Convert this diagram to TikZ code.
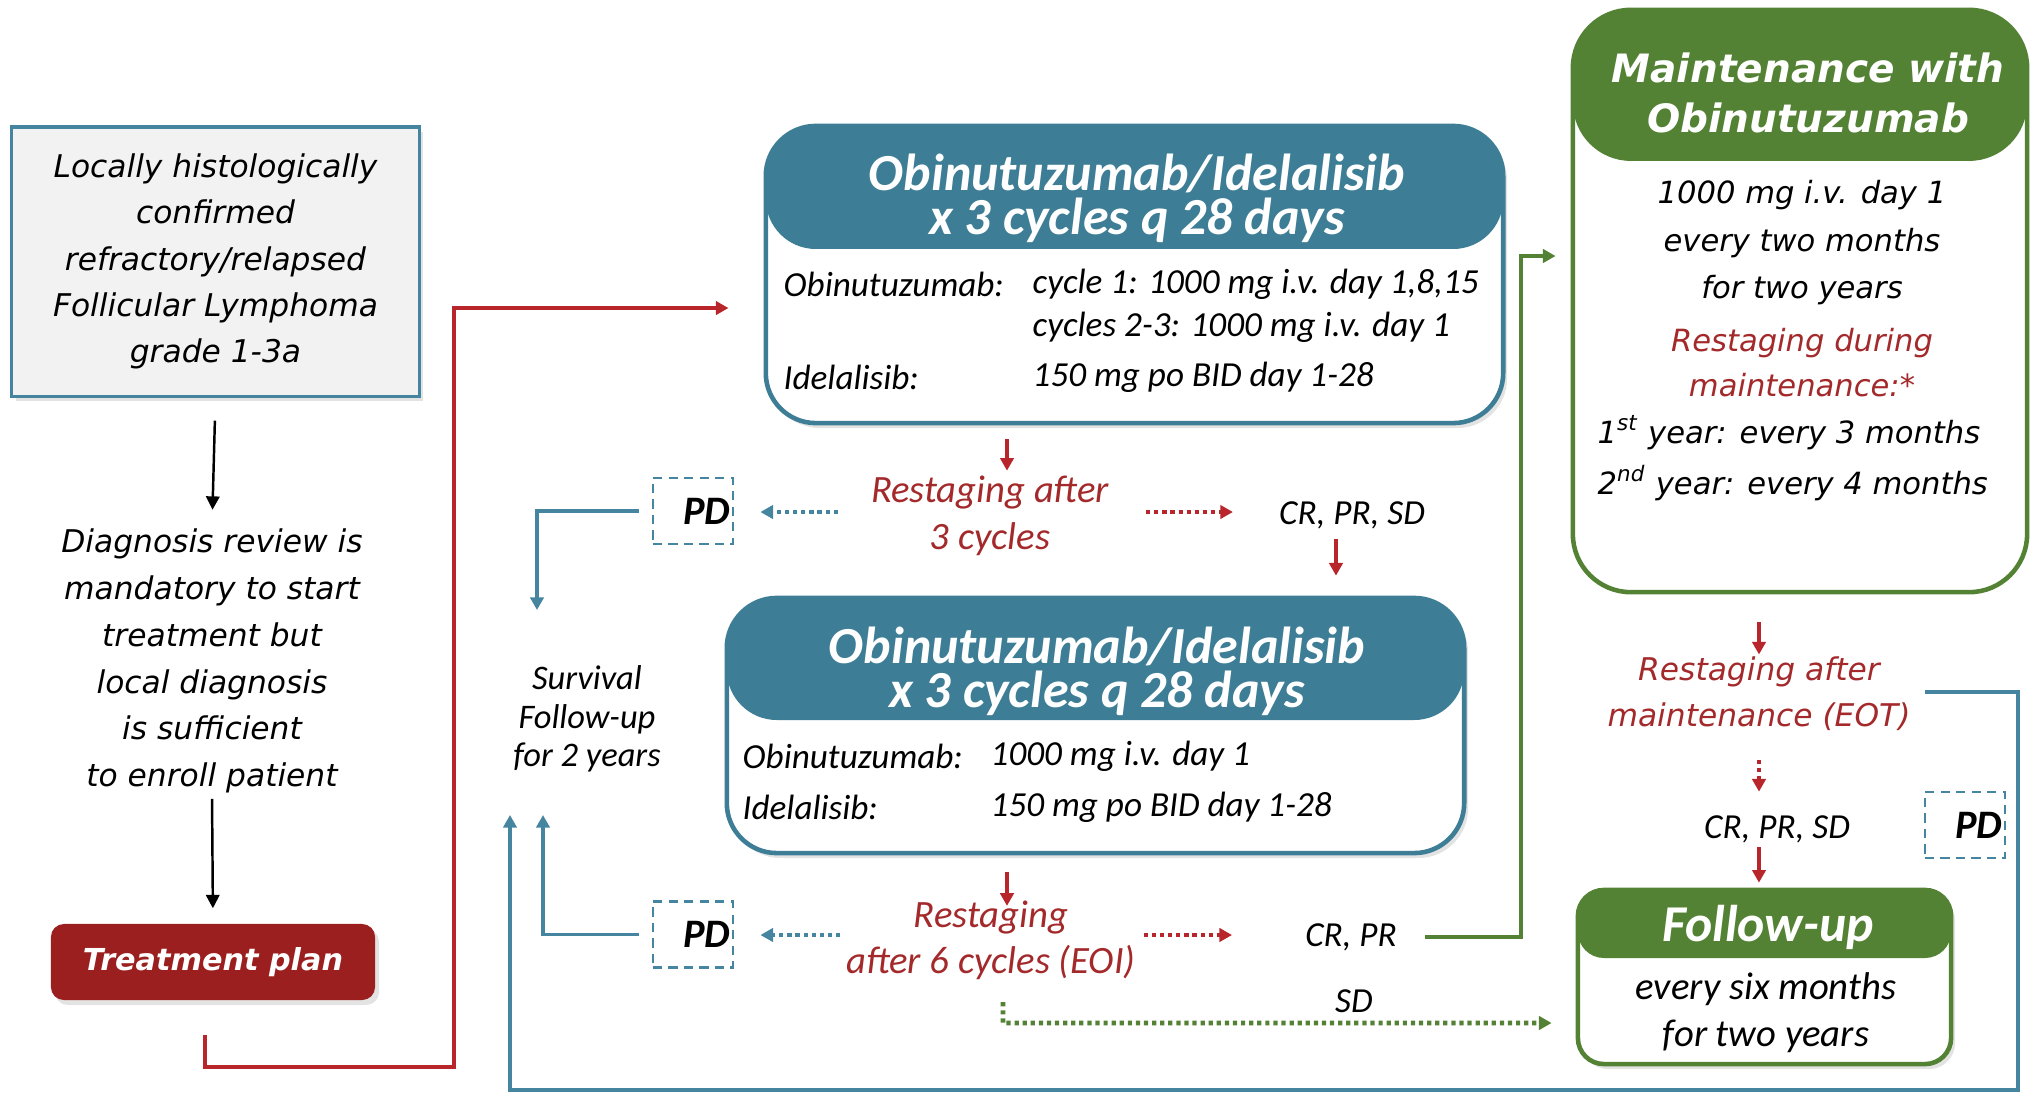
\documentclass[tikz,border=0pt]{standalone}
\usepackage{fontspec}
\setmainfont{Carlito}
\newfontfamily\verd{DejaVu Sans}[ItalicFont={DejaVu Sans Oblique},BoldFont={DejaVu Sans Bold},BoldItalicFont={DejaVu Sans Bold Oblique}]
\usetikzlibrary{arrows.meta,shadows}
\definecolor{tealc}{HTML}{3D7D95}
\definecolor{tealln}{HTML}{4585A0}
\definecolor{greenc}{HTML}{548235}
\definecolor{redbox}{HTML}{9B1F1F}
\definecolor{redln}{HTML}{B8262C}
\definecolor{redtxt}{HTML}{A3292B}
\definecolor{grayfill}{HTML}{F2F2F2}
\newcommand{\fsz}[2]{\fontsize{#1}{#2}\selectfont}
\tikzset{
  arrtip/.style={-{Triangle[length=3.6pt,width=3.8pt]}},
  redarr/.style={draw=redln,line width=0.9pt,arrtip},
  redline/.style={draw=redln,line width=0.9pt,arrtip},
  reddot/.style={draw=redln,line width=1.4pt,dash pattern=on 1.2pt off 1.1pt,arrtip},
  tealarr/.style={draw=tealln,line width=0.9pt,arrtip},
  tealdot/.style={draw=tealln,line width=1.4pt,dash pattern=on 1.2pt off 1.1pt,arrtip},
  greenarr/.style={draw=greenc,line width=0.9pt,arrtip},
  greendot/.style={draw=greenc,line width=1.4pt,dash pattern=on 1.2pt off 1.1pt,arrtip},
  blkarr/.style={draw=black,line width=0.7pt,-{Triangle[length=3.8pt,width=3.8pt]}},
  shad/.style={drop shadow={opacity=0.22,shadow xshift=0.04cm,shadow yshift=-0.05cm}},
  tealbox/.style={draw=tealc,line width=1.3pt,rounded corners=0.5cm,fill=white,inner sep=0,shad},
  greenbox/.style={draw=greenc,line width=1.3pt,fill=white,inner sep=0},
  pdbox/.style={draw=tealln,line width=0.8pt,dash pattern=on 2.6pt off 1.8pt,minimum height=0.66cm,
     text width=0.74cm,inner xsep=0.03cm,align=right,font=\bfseries\itshape\fsz{11.5}{13}},
  ttl/.style={text=white,align=center,inner sep=0,font=\bfseries\itshape\fsz{14.8}{12.6}},
  bodytxt/.style={anchor=west,inner sep=0,font=\itshape\fsz{10}{12}},
  cal/.style={inner sep=0,align=center,font=\itshape\fsz{11}{13.2}},
  calsm/.style={inner sep=0,align=center,font=\itshape\fsz{10}{12}},
  ver/.style={inner sep=0,align=center,font=\verd\itshape\fsz{8.9}{13.2}},
}
\begin{document}
\begin{tikzpicture}[x=0.01cm,y=-0.01cm]
\useasboundingbox (0,0) rectangle (2035,1093);

% ---------- left column ----------
\node[draw=tealln,line width=0.9pt,fill=grayfill,minimum width=4.07cm,minimum height=2.69cm,
      inner sep=0,align=center,font=\verd\itshape\fsz{8.9}{13.2},shad] (box1) at (215.5,261.5)
  {Locally histologically\\confirmed\\refractory/relapsed\\Follicular Lymphoma\\grade 1-3a};
\node[ver,font=\verd\itshape\fsz{8.9}{13.3}] (diag) at (212,661)
  {Diagnosis review is\\mandatory to start\\treatment but\\local diagnosis\\is sufficient\\to enroll patient};
\node[fill=redbox,rounded corners=0.13cm,minimum width=3.24cm,minimum height=0.76cm,inner sep=0,
      text=white,font=\verd\bfseries\itshape\fsz{8.6}{10},shad] (tp) at (213,962) {\raisebox{-0.05cm}{Treatment plan}};

\draw[blkarr,shorten <=0.23cm,shorten >=0.185cm] (box1.south) -- (diag.north);
\draw[blkarr,shorten <=0.05cm,shorten >=0.15cm] (diag.south) -- (tp.north);

% ---------- teal box 1 ----------
\node[tealbox,minimum width=7.37cm,minimum height=2.97cm,
  path picture={\fill[tealc] ([yshift=0.2cm]path picture bounding box.north west) rectangle ([yshift=-1.23cm]path picture bounding box.north east);}]
  (tb1) at (1134.5,274.5) {};
\node[ttl] (tb1t) at (1137,198) {Obinutuzumab/Idelalisib\\x 3 cycles q 28 days};
\node[bodytxt] (tb1a) at (783,284) {Obinutuzumab:};
\node[bodytxt] (tb1b) at (1032,284) {cycle 1: 1000 mg i.v. day 1,8,15};
\node[bodytxt] (tb1c) at (1032,327) {cycles 2-3: 1000 mg i.v. day 1};
\node[bodytxt] (tb1d) at (783,377) {Idelalisib:};
\node[bodytxt] (tb1e) at (1032,377) {150 mg po BID day 1-28};

\coordinate (c1) at (454,1067);
\draw[redline,shorten >=0.35cm] ([xshift=-0.08cm,yshift=-0.34cm]tp.south) |- (c1) |- ([yshift=-0.335cm]tb1.west);

% ---------- restaging after 3 cycles ----------
\node[cal,text=redtxt] (r1) at (990,516) {Restaging after\\3 cycles};
\node[pdbox] (pd1) at (693,511) {PD};
\node[calsm] (cr1) at (1352,515) {CR, PR, SD};
\draw[redarr,shorten <=0.14cm,shorten >=0.05cm] ([xshift=0.17cm]r1.north |- tb1.south) -- ([xshift=0.17cm]r1.north);
\draw[tealdot,shorten <=0.325cm,shorten >=0.26cm] ([yshift=0.04cm]r1.west) -- ([yshift=0.04cm]r1.west -| pd1.east);
\draw[reddot,shorten <=0.365cm,shorten >=0.455cm] ([yshift=0.04cm]r1.east) -- ([yshift=0.04cm]r1.east -| cr1.west);

% ---------- teal box 2 ----------
\node[tealbox,minimum width=7.37cm,minimum height=2.55cm,
  path picture={\fill[tealc] ([yshift=0.2cm]path picture bounding box.north west) rectangle ([yshift=-1.22cm]path picture bounding box.north east);}]
  (tb2) at (1095.5,725.5) {};
\node[ttl] (tb2t) at (1097,671) {Obinutuzumab/Idelalisib\\x 3 cycles q 28 days};
\node[bodytxt] (tb2a) at (742,756) {Obinutuzumab:};
\node[bodytxt] (tb2b) at (990,756) {1000 mg i.v. day 1};
\node[bodytxt] (tb2c) at (742,807) {Idelalisib:};
\node[bodytxt] (tb2d) at (990,807) {150 mg po BID day 1-28};

\draw[redarr,shorten <=0.1cm,shorten >=0.2cm] ([xshift=-0.16cm]cr1.south) -- ([xshift=-0.16cm]cr1.south |- tb2.north);

% ---------- survival ----------
\node[inner sep=0,align=center,font=\itshape\fsz{9.8}{11}] (sv) at (587,719) {Survival\\Follow-up\\for 2 years};
\coordinate (t1end) at (537,610);
\draw[tealarr,shorten <=0.13cm] (pd1.west) -| (t1end);

% ---------- restaging after 6 cycles ----------
\node[cal,text=redtxt,font=\itshape\fsz{11}{13.1}] (r2) at (991,940) {Restaging\\after 6 cycles (EOI)};
\node[pdbox] (pd2) at (693,934.5) {PD};
\node[calsm] (crpr) at (1351,937) {CR, PR};
\node[calsm] (sd) at (1354,1001) {SD};
\draw[redarr,shorten <=0.17cm,shorten >=-0.06cm] ([xshift=0.16cm]r2.north |- tb2.south) -- ([xshift=0.16cm]r2.north);
\draw[tealdot,shorten <=0.055cm,shorten >=0.26cm] ([yshift=0.05cm]r2.west) -- ([yshift=0.05cm]r2.west -| pd2.east);
\draw[reddot,shorten <=0.075cm,shorten >=0.725cm] ([yshift=0.05cm]r2.east) -- ([yshift=0.05cm]r2.east -| crpr.west);
\coordinate (t2end) at (543,815);
\draw[tealarr,shorten <=0.13cm] (pd2.west) -| (t2end);

% ---------- maintenance box ----------
\node[greenbox,rounded corners=0.58cm,minimum width=4.54cm,minimum height=5.82cm,
  path picture={\fill[greenc] ([yshift=0.2cm]path picture bounding box.north west) rectangle ([yshift=-1.51cm]path picture bounding box.north east);}]
  (mb) at (1800,301) {};
\node[text=white,align=center,inner sep=0,font=\verd\bfseries\itshape\fsz{11.1}{14.2}] (mbt) at (1808,93) {Maintenance with\\Obinutuzumab};
\node[ver,font=\verd\itshape\fsz{8.7}{13.5}] (mb1) at (1802,243) {1000 mg i.v. day 1\\every two months\\for two years};
\node[ver,text=redtxt,font=\verd\itshape\fsz{8.7}{12.8}] (mb2) at (1802,363) {Restaging during\\maintenance:*};
\node[ver,align=left,anchor=west,font=\verd\itshape\fsz{8.7}{14.5}] (mb3) at (1597,458) {1\textsuperscript{st} year: every 3 months\\2\textsuperscript{nd} year: every 4 months};

\coordinate (c4) at (1521,256);
\draw[greenarr,shorten <=0.275cm,shorten >=0.15cm] (crpr.east) -| (c4) -- (c4 -| mb.west);

% ---------- after maintenance ----------
\node[ver,text=redtxt,font=\verd\itshape\fsz{8.9}{13}] (eot) at (1759,694) {Restaging after\\maintenance (EOT)};
\node[calsm] (cr3) at (1777,829) {CR, PR, SD};
\node[pdbox] (pd3) at (1965,825) {PD};
\draw[redarr,shorten <=0.28cm,shorten >=0.02cm] (eot.north |- mb.south) -- (eot.north);
\draw[reddot,shorten <=0.28cm,shorten >=0.23cm] (eot.south) -- (eot.south |- cr3.north);

% ---------- follow-up box ----------
\node[greenbox,rounded corners=0.26cm,minimum width=3.73cm,minimum height=1.74cm,shad,
  path picture={\fill[greenc] ([yshift=0.2cm]path picture bounding box.north west) rectangle ([yshift=-0.68cm]path picture bounding box.north east);}]
  (fb) at (1764.5,977) {};
\node[text=white,inner sep=0,font=\bfseries\itshape\fsz{14.7}{16}] (fbt) at (1768,927) {Follow-up};
\node[cal,font=\itshape\fsz{11}{13.3}] (fb1) at (1766,1013) {every six months\\for two years};
\draw[redarr,shorten <=0.035cm,shorten >=0.05cm] (eot.south |- cr3.south) -- (eot.south |- fb.north);

% ---------- green dotted SD ----------
\coordinate (c5) at (1003,1023);
\draw[greendot,shorten <=0.22cm,shorten >=0.24cm] ([xshift=0.12cm]r2.south) -- (c5) -- (c5 -| fb.west);

% ---------- big teal loop ----------
\coordinate (c3) at (2018,1090);
\coordinate (t3end) at (510,815);
\draw[tealarr,shorten <=0.14cm] ([yshift=0.02cm]eot.east) -| (c3) -| (t3end);
\end{tikzpicture}
\end{document}
